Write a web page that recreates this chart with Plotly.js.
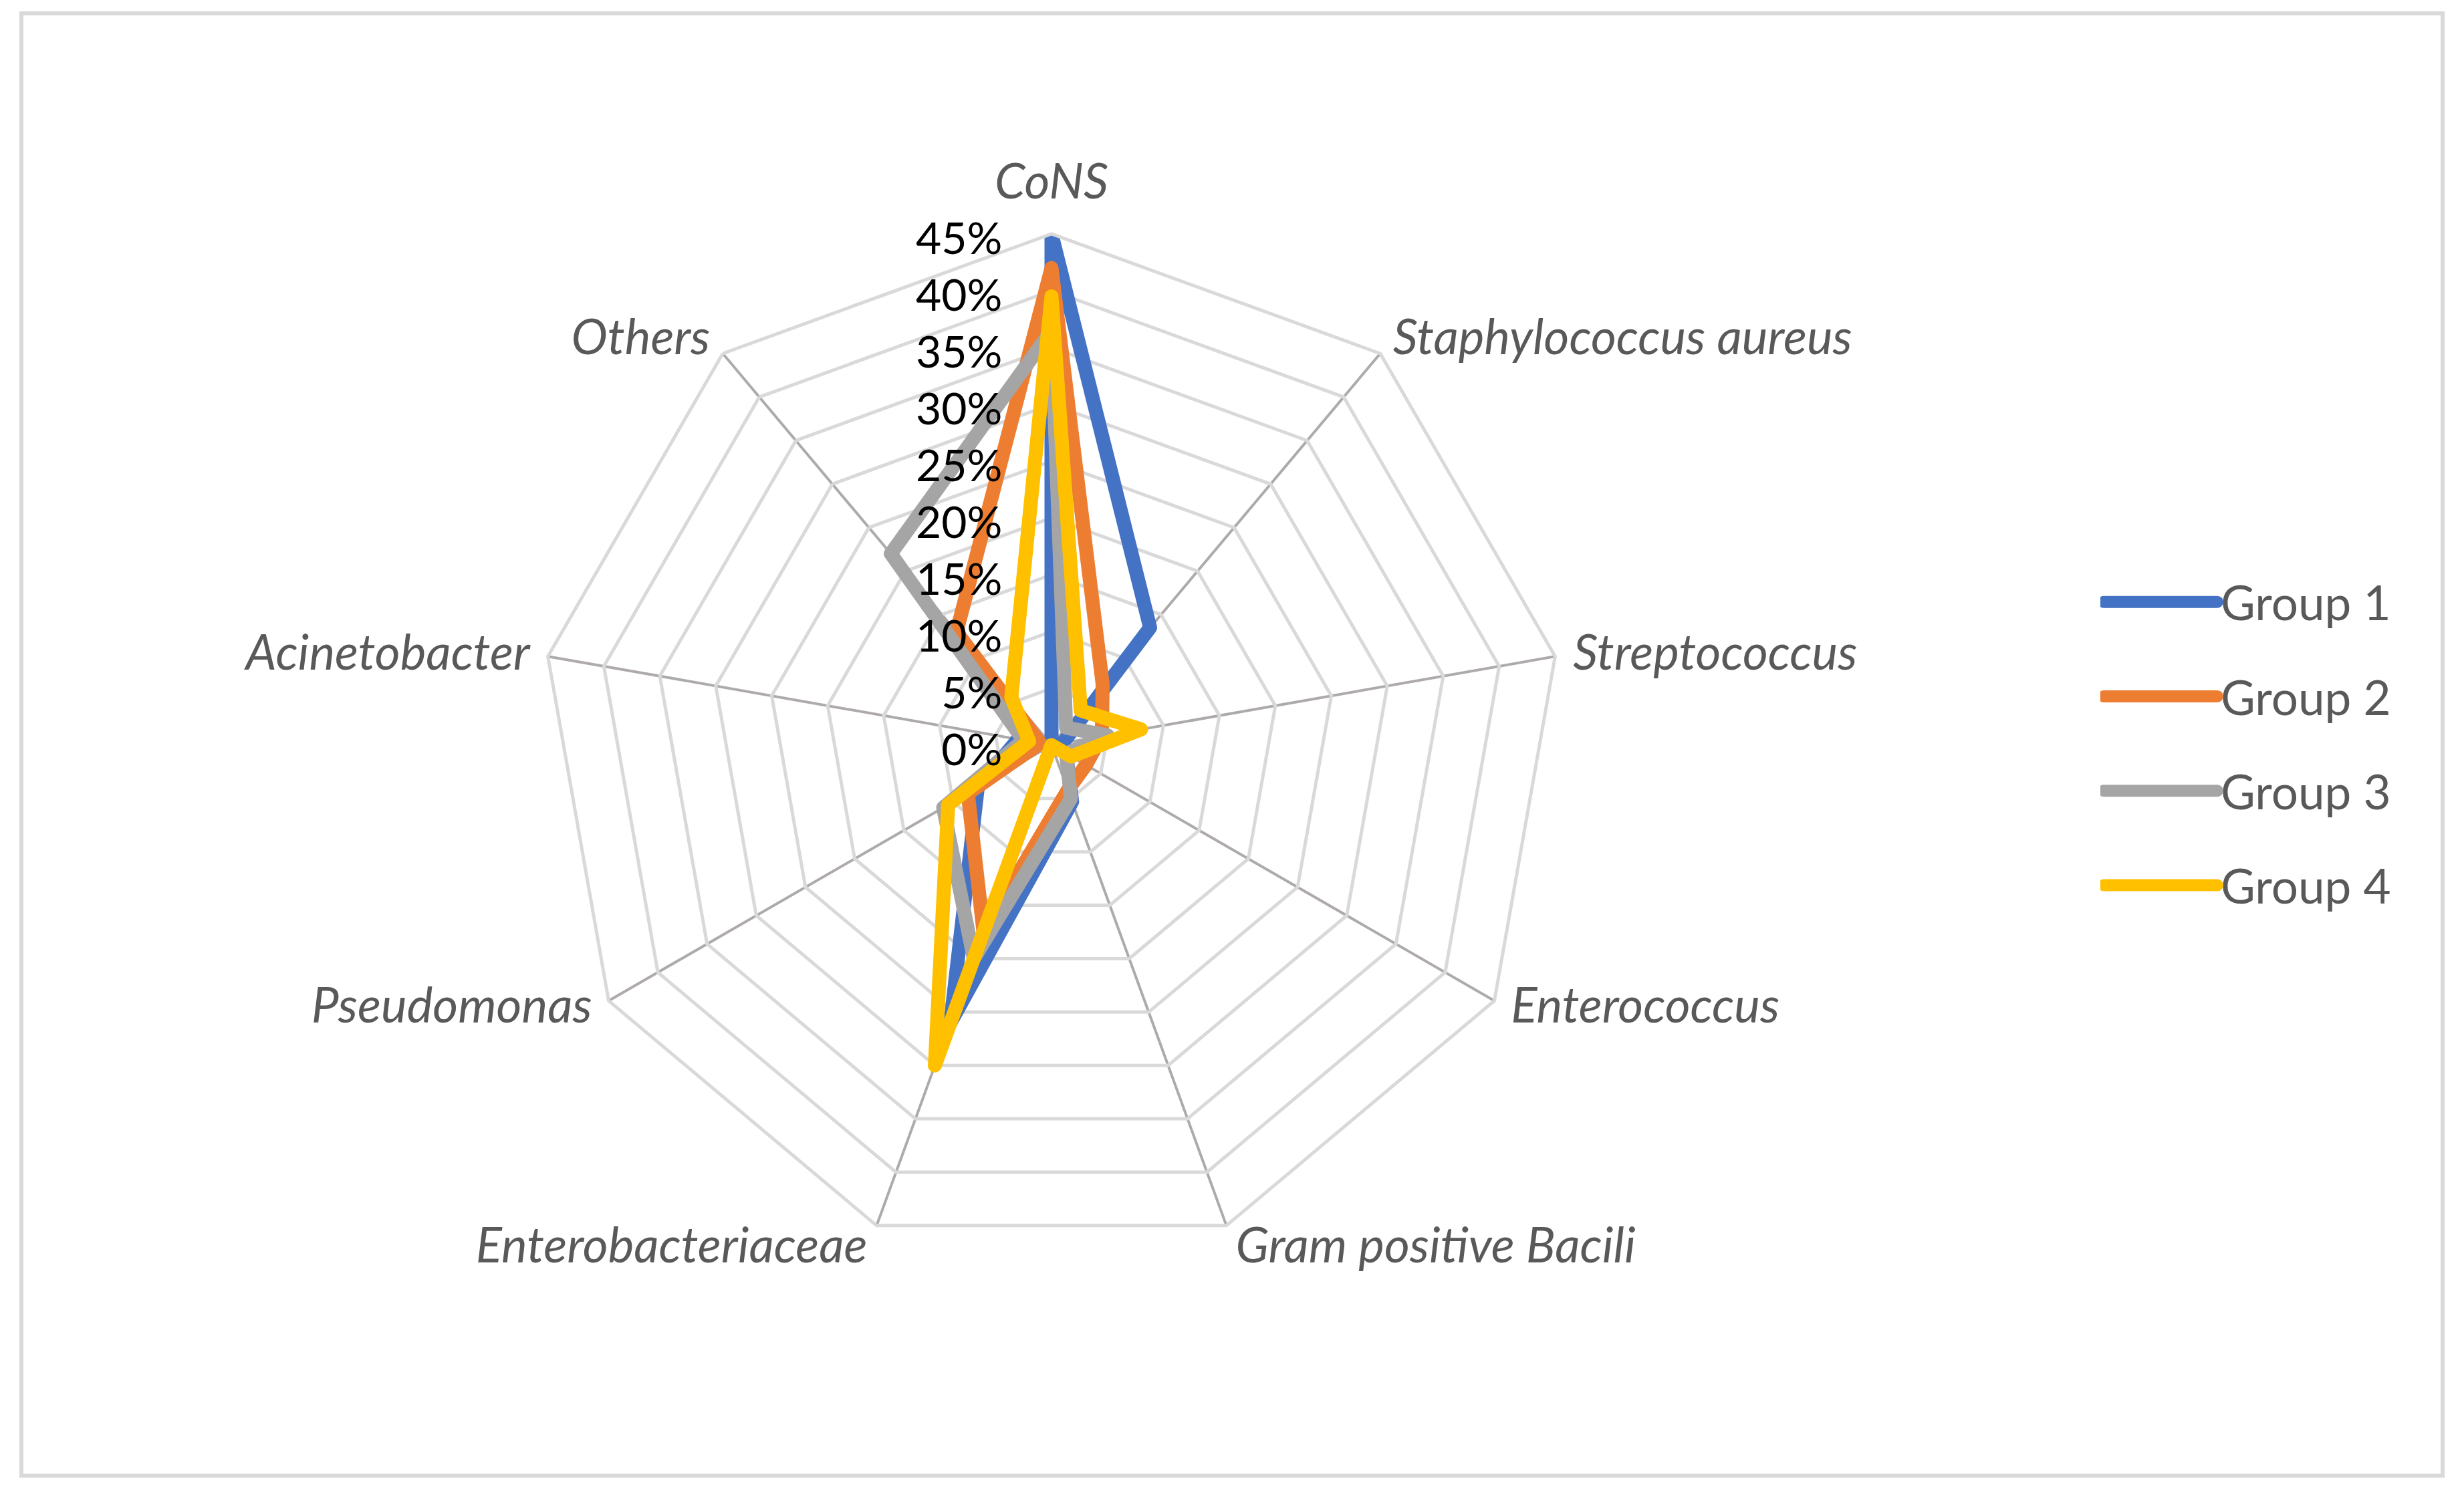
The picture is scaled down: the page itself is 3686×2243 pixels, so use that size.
<!DOCTYPE html>
<html>
<head>
<meta charset="utf-8">
<script src="https://cdn.plot.ly/plotly-3.0.1.min.js"></script>
<style>
  html, body { margin: 0; padding: 0; background: #ffffff; }
  #chart { width: 3686px; height: 2243px; }
  .js-line { stroke-linejoin: round !important; stroke-linecap: round !important; }
  .legendlines path { stroke-linecap: round !important; stroke-width: 18px !important; }
</style>
</head>
<body>
<div id="chart"></div>
<script>
// ---- data ----
const categories = ["CoNS", "Staphylococcus aureus", "Streptococcus", "Enterococcus",
  "Gram positive Bacili", "Enterobacteriaceae", "Pseudomonas", "Acinetobacter", "Others"];
const seriesNames = ["Group 1", "Group 2", "Group 3", "Group 4"];
const group1 = [0.45, 0.135, 0.01, 0.015, 0.053, 0.26, 0.075, 0.03, 0.00];
const group2 = [0.42, 0.07, 0.045, 0.035, 0.042, 0.175, 0.085, 0.01, 0.13];
const group3 = [0.365, 0.02, 0.05, 0.015, 0.05, 0.20, 0.11, 0.025, 0.22];
const group4 = [0.395, 0.04, 0.08, 0.02, 0.00, 0.30, 0.105, 0.02, 0.055];
const radialTicks = [0, 0.05, 0.10, 0.15, 0.20, 0.25, 0.30, 0.35, 0.40, 0.45];
const seriesColors = ["#4472C4", "#ED7D31", "#A5A5A5", "#FFC000"];

// label nudges (px) to mimic the original label placement around the polygon
const labelNudgeX = [0, 8, 10, 10, 8, -8, -10, -10, -8];
const labelNudgeY = [-21, 9, 0, -35, -38, -38, -35, 0, 9];

const allSeries = [group1, group2, group3, group4];

const traces = allSeries.map((vals, i) => ({
  type: "scatterpolar",
  mode: "lines",
  name: seriesNames[i],
  legendgroup: "g" + i,
  r: vals.concat([vals[0]]),
  theta: categories.concat([categories[0]]),
  line: { color: seriesColors[i], width: 21 },
  hoverinfo: "skip"
}));

const W = 3686, H = 2243;
const cx = 1573, cy = 1115, R = 765;

const layout = {
  width: W, height: H,
  autosize: false,
  margin: { l: 0, r: 0, t: 0, b: 0, pad: 0 },
  paper_bgcolor: "#ffffff",
  font: { family: "Lato, 'Noto Sans', sans-serif", color: "#595959" },
  showlegend: true,
  legend: {
    orientation: "v",
    x: 3142 / W, xanchor: "left",
    y: 1 - 1113 / H, yanchor: "middle",
    font: { size: 71, color: "#595959", family: "Lato, 'Noto Sans', sans-serif" },
    itemwidth: 170,
    tracegroupgap: 46,
    bgcolor: "rgba(0,0,0,0)"
  },
  polar: {
    domain: { x: [(cx - R) / W, (cx + R) / W], y: [1 - (cy + R) / H, 1 - (cy - R) / H] },
    bgcolor: "#ffffff",
    gridshape: "linear",
    angularaxis: {
      type: "category",
      categoryorder: "array",
      categoryarray: categories,
      rotation: 90,
      direction: "clockwise",
      showgrid: true,
      gridcolor: "#AEAAAA",
      gridwidth: 4,
      showline: true,
      linecolor: "#D9D9D9",
      linewidth: 5,
      ticks: "",
      tickfont: { size: 73, color: "#595959", style: "italic", family: "Lato, 'Noto Sans', sans-serif" }
    },
    radialaxis: {
      range: [0, 0.45],
      tickvals: radialTicks,
      tickformat: ".0%",
      angle: 90,
      side: "counterclockwise",
      showline: false,
      showgrid: true,
      gridcolor: "#D9D9D9",
      gridwidth: 5,
      ticks: "outside",
      ticklen: 50,
      tickcolor: "rgba(0,0,0,0)",
      tickangle: 90,
      tickfont: { size: 66, color: "#000000", family: "Lato, 'Noto Sans', sans-serif" }
    }
  },
  shapes: [{
    type: "rect", xref: "paper", yref: "paper",
    x0: 32 / W, x1: 3654 / W, y0: 1 - 2208 / H, y1: 1 - 20 / H,
    line: { color: "#D9D9D9", width: 6 }, fillcolor: "rgba(0,0,0,0)", layer: "below"
  }]
};

Plotly.newPlot("chart", traces, layout, { staticPlot: true, displayModeBar: false }).then(gd => {
  gd.querySelectorAll("text").forEach(t => {
    const s = t.textContent.trim();
    const idx = categories.indexOf(s);
    let dx = 0, dy = 0;
    if (idx >= 0) { dx = labelNudgeX[idx]; dy = labelNudgeY[idx]; }
    else if (/^\d+%$/.test(s)) { dy = 9; }
    else return;
    const tr = t.getAttribute("transform") || "";
    t.setAttribute("transform", tr + " translate(" + dx + "," + dy + ")");
  });
});
</script>
</body>
</html>
